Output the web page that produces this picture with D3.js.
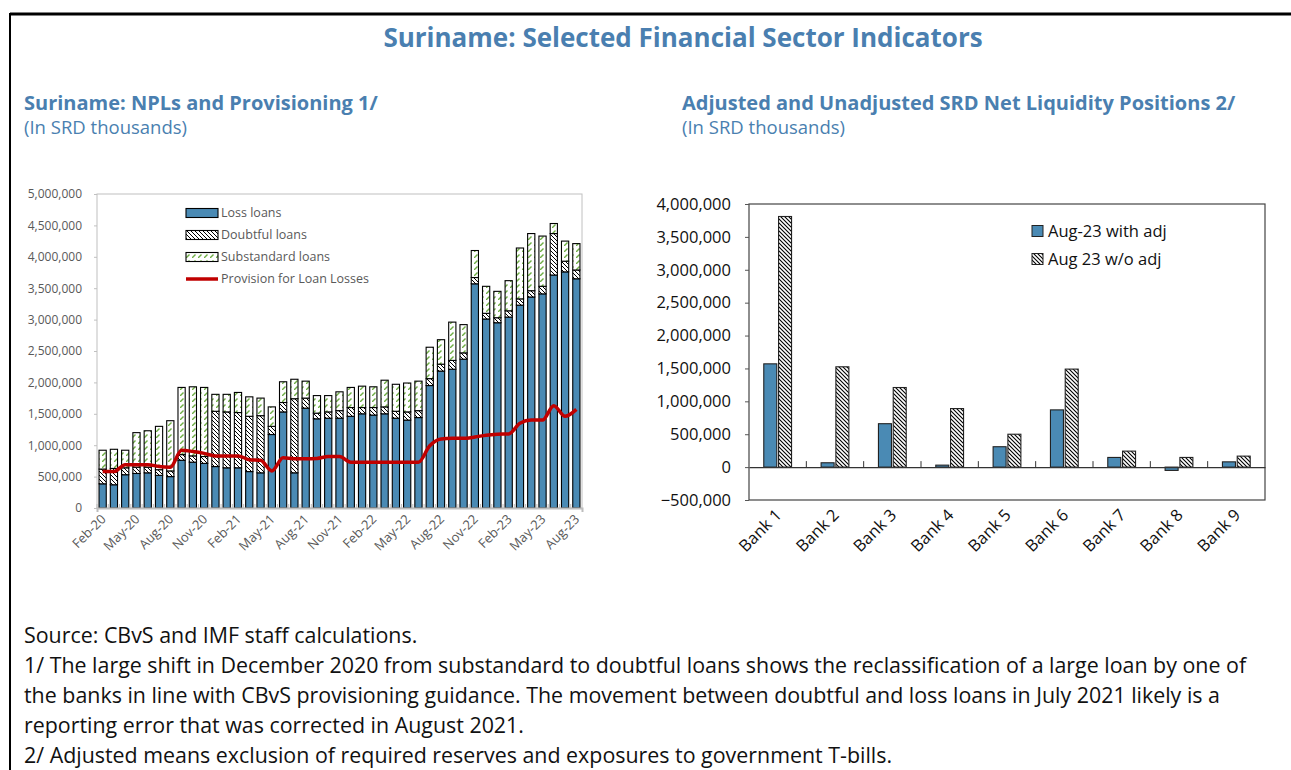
<!DOCTYPE html>
<html>
<head>
<meta charset="utf-8">
<script src="https://cdn.jsdelivr.net/npm/d3@7/dist/d3.min.js"></script>
<style>
  html, body { margin: 0; padding: 0; background: #fff; }
  svg { display: block; font-family: "Open Sans", "Noto Sans", sans-serif; }
</style>
</head>
<body>
<svg id="chart" width="1291" height="770"></svg>
<script>
// ---------------- DATA ----------------
const months = ["Feb-20","Mar-20","Apr-20","May-20","Jun-20","Jul-20","Aug-20","Sep-20","Oct-20","Nov-20","Dec-20",
  "Jan-21","Feb-21","Mar-21","Apr-21","May-21","Jun-21","Jul-21","Aug-21","Sep-21","Oct-21","Nov-21","Dec-21",
  "Jan-22","Feb-22","Mar-22","Apr-22","May-22","Jun-22","Jul-22","Aug-22","Sep-22","Oct-22","Nov-22","Dec-22",
  "Jan-23","Feb-23","Mar-23","Apr-23","May-23","Jun-23","Jul-23","Aug-23"];
const lossLoans = [385000,370000,530000,550000,560000,520000,500000,760000,730000,710000,660000,
  640000,640000,580000,560000,1170000,1530000,560000,1590000,1420000,1430000,1430000,1460000,
  1500000,1480000,1500000,1430000,1400000,1440000,1950000,2180000,2210000,2370000,3570000,3010000,
  2950000,3040000,3230000,3360000,3410000,3710000,3760000,3650000];
const doubtfulLoans = [235000,260000,110000,100000,90000,90000,90000,90000,100000,110000,880000,
  890000,880000,880000,910000,130000,150000,1180000,160000,90000,100000,120000,140000,
  100000,120000,110000,110000,130000,110000,110000,110000,140000,100000,100000,90000,
  80000,100000,100000,100000,120000,660000,170000,140000];
const substandardLoans = [300000,305000,280000,550000,580000,690000,800000,1070000,1100000,1100000,270000,
  280000,320000,310000,280000,310000,330000,310000,270000,280000,260000,300000,320000,
  340000,330000,425000,430000,460000,470000,500000,390000,610000,450000,430000,430000,
  420000,480000,810000,910000,800000,160000,320000,420000];
const provisions = [580000,580000,690000,690000,690000,660000,650000,920000,900000,870000,830000,
  830000,830000,770000,760000,590000,800000,785000,785000,790000,820000,820000,730000,
  730000,730000,730000,730000,730000,730000,990000,1100000,1110000,1110000,1130000,1160000,
  1175000,1180000,1350000,1400000,1400000,1630000,1460000,1570000];
const leftTicks = [0,500000,1000000,1500000,2000000,2500000,3000000,3500000,4000000,4500000,5000000];
const leftLegend = ["Loss loans","Doubtful loans","Substandard loans","Provision for Loan Losses"];

const banks = ["Bank 1","Bank 2","Bank 3","Bank 4","Bank 5","Bank 6","Bank 7","Bank 8","Bank 9"];
const withAdj = [1570000,66000,660000,30000,310000,870000,147000,-50000,80000];
const withoutAdj = [3810000,1525000,1210000,890000,500000,1490000,243000,147000,167000];
const rightTicks = [-500000,0,500000,1000000,1500000,2000000,2500000,3000000,3500000,4000000];
const rightLegend = ["Aug-23 with adj","Aug 23 w/o adj"];

const title = "Suriname: Selected Financial Sector Indicators";
const leftTitle = "Suriname: NPLs and Provisioning 1/";
const rightTitle = "Adjusted and Unadjusted SRD Net Liquidity Positions 2/";
const unitsText = "(In SRD thousands)";
const footnotes = [
  "Source: CBvS and IMF staff calculations.",
  "1/ The large shift in December 2020 from substandard to doubtful loans shows the reclassification of a large loan by one of",
  "the banks in line with CBvS provisioning guidance. The movement between doubtful and loss loans in July 2021 likely is a",
  "reporting error that was corrected in August 2021.",
  "2/ Adjusted means exclusion of required reserves and exposures to government T-bills."
];

// ---------------- STYLE ----------------
const BLUE = "#4a8ab4";
const HEAD = "#4a7fb0";
const fmt = d3.format(",");

const svg = d3.select("#chart");
const defs = svg.append("defs");

// patterns
const pD = defs.append("pattern").attr("id","doubtful").attr("patternUnits","userSpaceOnUse")
  .attr("width",4).attr("height",4);
pD.append("rect").attr("width",4).attr("height",4).attr("fill","#fff");
pD.append("path").attr("d","M-1,-1L5,5M3,-1L5,1M-1,3L1,5").attr("stroke","#000").attr("stroke-width",1);

const pS = defs.append("pattern").attr("id","substd").attr("patternUnits","userSpaceOnUse")
  .attr("width",6).attr("height",6);
pS.append("rect").attr("width",6).attr("height",6).attr("fill","#fff");
pS.append("path").attr("d","M0,6L3.5,2.5").attr("stroke","#6fae45").attr("stroke-width",1.4);

const pR = defs.append("pattern").attr("id","hatchR").attr("patternUnits","userSpaceOnUse")
  .attr("width",4).attr("height",4);
pR.append("rect").attr("width",4).attr("height",4).attr("fill","#fff");
pR.append("path").attr("d","M-1,-1L5,5M3,-1L5,1M-1,3L1,5").attr("stroke","#000").attr("stroke-width",1.1);

// frame
svg.append("line").attr("x1",10).attr("x2",1291).attr("y1",14).attr("y2",14).attr("stroke","#000").attr("stroke-width",3);
svg.append("line").attr("x1",10).attr("x2",10).attr("y1",13).attr("y2",770).attr("stroke","#000").attr("stroke-width",2);

// titles
svg.append("text").attr("x",683).attr("y",47).attr("text-anchor","middle")
  .attr("font-size",26).attr("font-weight",700).attr("fill",HEAD).text(title);
svg.append("text").attr("x",24).attr("y",110).attr("font-size",20).attr("font-weight",700).attr("fill",HEAD).text(leftTitle);
svg.append("text").attr("x",24).attr("y",134).attr("font-size",18.5).attr("fill",HEAD).text(unitsText);
svg.append("text").attr("x",682).attr("y",110).attr("font-size",20).attr("font-weight",700).attr("fill",HEAD).text(rightTitle);
svg.append("text").attr("x",682).attr("y",134).attr("font-size",18.5).attr("fill",HEAD).text(unitsText);

// footnotes
svg.append("g").selectAll("text").data(footnotes).join("text")
  .attr("x",24).attr("y",(d,i)=>643 + i*30).attr("font-size",21.4).attr("fill","#111").text(d=>d);

// ---------------- LEFT CHART ----------------
{
  const L = {x0:97, x1:582, y0:194, y1:508};
  const x = d3.scaleBand().domain(months).range([L.x0, L.x1]).paddingInner(0.36).paddingOuter(0.18);
  const y = d3.scaleLinear().domain([0,5000000]).range([L.y1, L.y0]);
  const g = svg.append("g");

  g.append("rect").attr("x",L.x0).attr("y",L.y0).attr("width",L.x1-L.x0).attr("height",L.y1-L.y0)
    .attr("fill","none").attr("stroke","#c0c0c0").attr("stroke-width",1);

  // y axis labels
  const ya = g.append("g").attr("transform",`translate(${L.x0},0)`)
    .call(d3.axisLeft(y).tickValues(leftTicks).tickFormat(fmt).tickSize(3).tickPadding(12));
  ya.select(".domain").remove();
  ya.selectAll(".tick line").attr("stroke","#c0c0c0");
  ya.selectAll("text").attr("font-size",12).attr("fill","#595959").attr("font-family","'Open Sans', sans-serif");

  const table = months.map((m,i)=>({month:m, loss:lossLoans[i], doubtful:doubtfulLoans[i], substandard:substandardLoans[i]}));
  const keys = ["loss","doubtful","substandard"];
  const fills = {loss:BLUE, doubtful:"url(#doubtful)", substandard:"url(#substd)"};
  const stacked = d3.stack().keys(keys)(table);

  g.append("g").selectAll("g").data(stacked).join("g")
    .attr("fill", d=>fills[d.key])
    .selectAll("rect").data(d=>d).join("rect")
      .attr("x", d=>x(d.data.month))
      .attr("width", x.bandwidth())
      .attr("y", d=>y(d[1]))
      .attr("height", d=>y(d[0])-y(d[1]))
      .attr("stroke","#000").attr("stroke-width",1.1);

  // x axis
  const xa = g.append("g").attr("transform",`translate(0,${L.y1})`)
    .call(d3.axisBottom(x).tickSize(4).tickFormat(""));
  xa.select(".domain").attr("stroke","#bdbdbd").attr("stroke-width",2);
  xa.selectAll(".tick line").attr("stroke","#bdbdbd").attr("y1",-4).attr("y2",0)
    .attr("transform",`translate(${-x.step()/2},0)`);

  g.append("g").selectAll("text").data(months.filter((m,i)=>i%3===0)).join("text")
    .attr("text-anchor","end")
    .attr("font-size",13).attr("fill","#595959")
    .attr("transform", d=>`translate(${x(d)+x.bandwidth()/2+4},${L.y1+12}) rotate(-45)`)
    .text(d=>d);

  // provision line
  const line = d3.line().x((d,i)=>x(months[i])+x.bandwidth()/2).y(d=>y(d)).curve(d3.curveMonotoneX);
  g.append("path").datum(provisions).attr("d",line).attr("fill","none")
    .attr("stroke","#c00000").attr("stroke-width",3.5).attr("stroke-linejoin","round");

  // legend
  const lg = g.append("g");
  const rowsY = [213, 235, 257, 279];
  leftLegend.forEach((t,i)=>{
    const yy = rowsY[i];
    if (i < 3) {
      lg.append("rect").attr("x",186).attr("y",yy-4.5).attr("width",32).attr("height",9)
        .attr("fill", [BLUE,"url(#doubtful)","url(#substd)"][i]).attr("stroke","#000").attr("stroke-width",1.1);
    } else {
      lg.append("line").attr("x1",186).attr("x2",218).attr("y1",yy).attr("y2",yy)
        .attr("stroke","#c00000").attr("stroke-width",3.5);
    }
    lg.append("text").attr("x",221).attr("y",yy).attr("dy","0.35em").attr("font-size",12.5)
      .attr("fill","#595959").text(t);
  });
}

// ---------------- RIGHT CHART ----------------
{
  const R = {x0:749, x1:1265, y0:204, y1:500};
  const x = d3.scaleBand().domain(banks).range([R.x0, R.x1]);
  const sub = d3.scaleBand().domain(["a","b"]).range([0, x.bandwidth()]).paddingInner(0.12).paddingOuter(1.0);
  const y = d3.scaleLinear().domain([-500000,4000000]).range([R.y1, R.y0]);
  const g = svg.append("g");

  g.append("rect").attr("x",R.x0).attr("y",R.y0).attr("width",R.x1-R.x0).attr("height",R.y1-R.y0)
    .attr("fill","none").attr("stroke","#444").attr("stroke-width",1.2);

  const ya = g.append("g").attr("transform",`translate(${R.x0},0)`)
    .call(d3.axisLeft(y).tickValues(rightTicks).tickFormat(fmt).tickSize(4).tickPadding(14));
  ya.select(".domain").remove();
  ya.selectAll(".tick line").attr("stroke","#555");
  ya.selectAll("text").attr("font-size",16.5).attr("fill","#111").attr("font-family","'Open Sans', sans-serif");

  const data = banks.map((b,i)=>({bank:b, a:withAdj[i], b:withoutAdj[i]}));
  const bg = g.append("g");
  data.forEach(d=>{
    [["a",BLUE],["b","url(#hatchR)"]].forEach(([k,f])=>{
      const v = d[k];
      bg.append("rect")
        .attr("x", x(d.bank)+sub(k)).attr("width", sub.bandwidth())
        .attr("y", y(Math.max(0,v))).attr("height", Math.abs(y(v)-y(0)))
        .attr("fill", f).attr("stroke","#222").attr("stroke-width",1.1);
    });
  });

  // zero axis
  const xa = g.append("g").attr("transform",`translate(0,${y(0)})`)
    .call(d3.axisBottom(x).tickSize(0).tickFormat(""));
  xa.select(".domain").attr("stroke","#333").attr("stroke-width",1.2);
  xa.selectAll(".tick").remove();
  g.append("g").selectAll("line").data(banks.slice(1)).join("line")
    .attr("x1",d=>x(d)).attr("x2",d=>x(d)).attr("y1",y(0)).attr("y2",y(0)-6)
    .attr("stroke","#333").attr("stroke-width",1);

  g.append("g").selectAll("text").data(banks).join("text")
    .attr("text-anchor","end").attr("font-size",16.5).attr("fill","#111")
    .attr("transform", d=>`translate(${x(d)+x.bandwidth()/2+5},${R.y1+16}) rotate(-45)`)
    .text(d=>d);

  // legend
  const lg = g.append("g");
  rightLegend.forEach((t,i)=>{
    const yy = 231 + i*28;
    lg.append("rect").attr("x",1032).attr("y",yy-5.5).attr("width",11).attr("height",11)
      .attr("fill", i===0 ? BLUE : "url(#hatchR)").attr("stroke","#222").attr("stroke-width",1);
    lg.append("text").attr("x",1048).attr("y",yy).attr("dy","0.35em").attr("font-size",16.5)
      .attr("fill","#111").text(t);
  });
}
</script>
</body>
</html>
